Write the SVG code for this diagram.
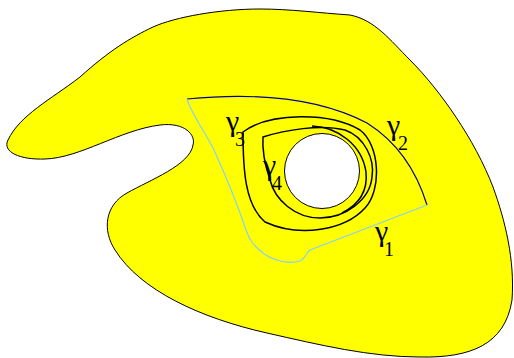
<svg xmlns="http://www.w3.org/2000/svg" width="514" height="358" viewBox="0 0 514 358">
<style>
.g{font-family:"Liberation Serif","Times New Roman",serif;fill:#000}
.big{font-size:30px}
.sub{font-size:20px}
.loop{fill:none;stroke:#000;stroke-width:1.5}
</style>
<rect width="514" height="358" fill="#fff"/>
<g id="region">
<path d="M 350,15 C 320,13 290,9 260,9 C 220,9 175,17 153,27 C 130,38 110,50 80,77 C 50,100 20,115 8,140 C 2,152 20,160 45,159 C 80,158 120,130 160,125 C 185,122 196,135 193,145 C 190,165 150,180 127,193 C 105,205 102,230 115,250 C 140,290 200,318 267,333 C 320,345 370,357 420,357 C 470,358 505,345 512,300 C 515,260 505,220 493,187 C 475,140 440,90 410,60 C 390,40 375,20 350,15 Z" fill="#ffff00" stroke="#000" stroke-width="1"/>
</g>
<g id="hole">
<circle cx="322" cy="171" r="37.5" fill="#fff" stroke="#000" stroke-width="1"/>
</g>
<g id="connectors">
<path id="gamma2-path" d="M 187,99 Q 300,88 367,123 Q 410,150 427,205" fill="none" stroke="#000080" stroke-width="1.2"/>
<path id="gamma1-path" d="M 427,205 L 310,250 C 306,253 306,258 300,261 C 290,264 275,262 263,253 C 252,245 249,238 246,230 C 236,200 224,172 214,150 C 204,130 192,115 187,99" fill="none" stroke="#87cefa" stroke-width="1.2"/>
<path id="gamma3-path" class="loop" d="M 243,132 C 270,112 330,112 360,130 C 380,145 382,190 365,208 C 345,230 300,238 265,222 C 245,205 243,170 243,132 Z"/>
<path id="gamma4-path" class="loop" d="M 263,137 C 285,130 320,124 345,130 C 365,137 375,160 372,177 C 370,200 345,218 320,218 C 295,218 275,200 270,180 C 265,165 262,150 263,137 Z"/>
<path id="gamma4-inner" class="loop" d="M 312,126 C 338,127 362,145 366,172 C 368,192 358,205 342,213"/>
</g>
<g id="labels">
<text class="g big" x="226" y="131">γ</text><text class="g sub" x="235" y="146">3</text>
<text class="g big" x="387" y="135">γ</text><text class="g sub" x="398" y="150">2</text>
<text class="g big" x="375" y="241">γ</text><text class="g sub" x="384" y="256">1</text>
<text class="g big" x="263" y="175">γ</text><text class="g sub" x="272" y="190">4</text>
</g>
</svg>
